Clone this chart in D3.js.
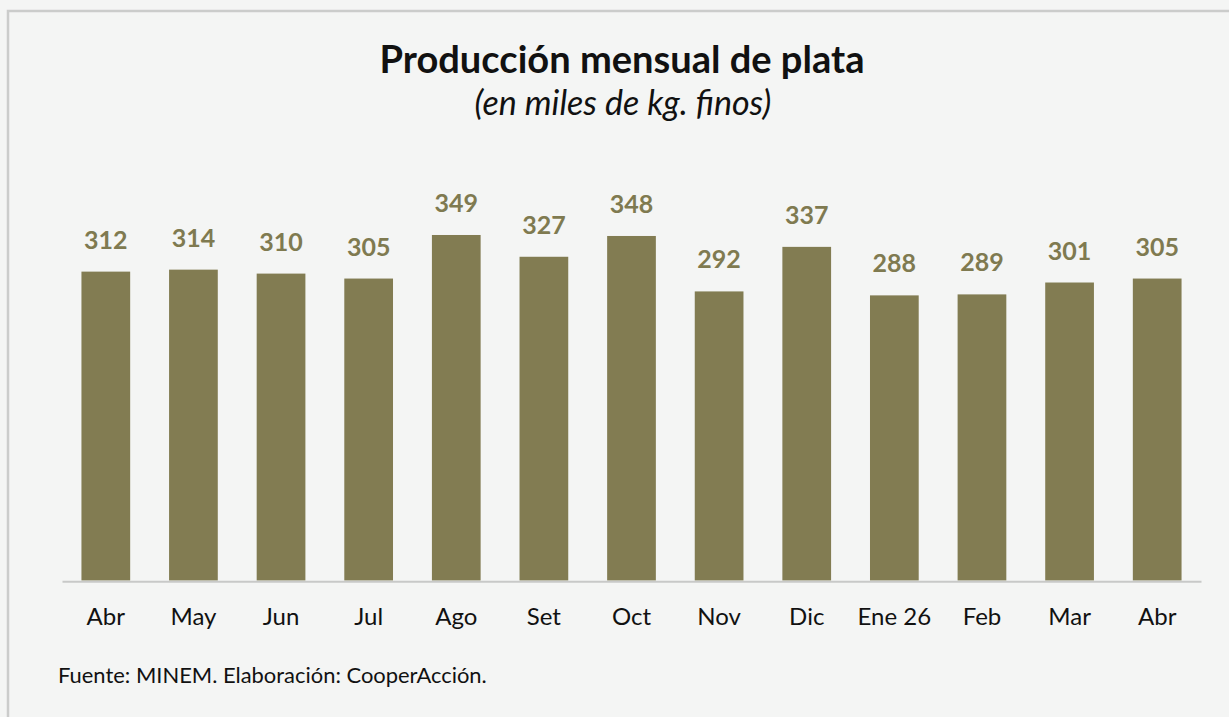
<!DOCTYPE html>
<html>
<head>
<meta charset="utf-8">
<script src="https://cdn.jsdelivr.net/npm/d3@7"></script>
<style>
  html, body { margin: 0; padding: 0; background: #f4f5f4; }
  svg { display: block; font-family: Lato, "Noto Sans", sans-serif; }
</style>
</head>
<body>
<div id="chart"></div>
<script>
// monthly silver production (thousand kg fine)
var months = ["Abr", "May", "Jun", "Jul", "Ago", "Set", "Oct", "Nov", "Dic", "Ene 26", "Feb", "Mar", "Abr"];
var values = [312, 314, 310, 305, 349, 327, 348, 292, 337, 288, 289, 301, 305];
var titleText = "Producción mensual de plata";
var subtitleText = "(en miles de kg. finos)";
var sourceText = "Fuente: MINEM. Elaboración: CooperAcción.";

var width = 1229, height = 717;
var barColor = "#827c52";

var svg = d3.select("#chart").append("svg")
  .attr("width", width)
  .attr("height", height);

svg.append("rect")
  .attr("width", width).attr("height", height)
  .attr("fill", "#f4f5f4");

// frame (top and left edges visible)
svg.append("path")
  .attr("d", "M8,740V11H1240")
  .attr("fill", "none")
  .attr("stroke", "#cbcccb")
  .attr("stroke-width", 2.5);

// shrink/grow font so the text spans the given width
function fitWidth(sel, target) {
  var size = parseFloat(sel.attr("font-size"));
  var w = sel.node().getBBox().width;
  sel.attr("font-size", size * target / w);
}

var x = d3.scaleBand()
  .domain(d3.range(months.length))
  .range([62, 1201])
  .paddingInner(0.444)
  .paddingOuter(0.222);

var y = d3.scaleLinear()
  .domain([0, 400])
  .range([580.5, 184.5]);

svg.selectAll(".bar")
  .data(values)
  .enter().append("rect")
  .attr("class", "bar")
  .attr("x", function (d, i) { return x(i); })
  .attr("y", function (d) { return y(d); })
  .attr("width", x.bandwidth())
  .attr("height", function (d) { return y(0) - y(d); })
  .attr("fill", barColor);

svg.selectAll(".val")
  .data(values)
  .enter().append("text")
  .attr("class", "val")
  .attr("x", function (d, i) { return x(i) + x.bandwidth() / 2; })
  .attr("y", function (d) { return y(d) - 23; })
  .attr("text-anchor", "middle")
  .attr("font-size", 25)
  .attr("font-weight", "bold")
  .attr("fill", "#7f7a50")
  .text(function (d) { return d; });

// x axis
var xAxis = svg.append("g")
  .attr("transform", "translate(0,581.3)")
  .call(d3.axisBottom(x).tickSize(0).tickSizeOuter(0)
    .tickFormat(function (i) { return months[i]; }));
xAxis.select(".domain").attr("stroke", "#c8c9c8").attr("stroke-width", 2);
xAxis.selectAll("text")
  .attr("font-family", "Lato, 'Noto Sans', sans-serif")
  .attr("font-size", 24)
  .attr("fill", "#111")
  .attr("dy", null)
  .attr("y", 44);

var title = svg.append("text")
  .attr("x", 622).attr("y", 73)
  .attr("text-anchor", "middle")
  .attr("font-size", 32)
  .attr("font-weight", "bold")
  .attr("fill", "#111")
  .text(titleText);
fitWidth(title, 485);

var sub = svg.append("text")
  .attr("x", 623).attr("y", 115)
  .attr("text-anchor", "middle")
  .attr("font-size", 26)
  .attr("font-style", "italic")
  .attr("fill", "#111")
  .text(subtitleText);
fitWidth(sub, 297);

var src = svg.append("text")
  .attr("x", 58).attr("y", 683)
  .attr("font-size", 20)
  .attr("fill", "#111")
  .text(sourceText);
fitWidth(src, 429);
</script>
</body>
</html>
